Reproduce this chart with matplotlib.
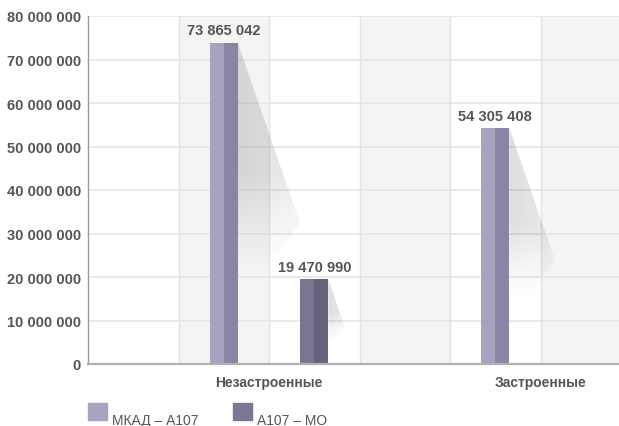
# bar chart of land area by zone, with soft drop shadows on the bars

import numpy as np
import matplotlib.pyplot as plt
from matplotlib.patches import Polygon, Rectangle
from matplotlib.ticker import FuncFormatter

plt.rcParams['font.family'] = ['Liberation Sans', 'DejaVu Sans']

# data
categories = ['Незастроенные', 'Застроенные']
series_names = ['МКАД – А107', 'А107 – МО']
mkad_a107 = [73865042, 54305408]
a107_mo = [19470990, 0]

# colors (light face, dark face) per series
face_colors = [('#a8a1bf', '#8b85a5'), ('#7c7591', '#69627f')]
legend_colors = ['#a9a3c0', '#7d7692']
txt = '#555555'

cat_pos = np.array([2.0, 5.0])
offsets = [-0.5, 0.5]
bar_w = 0.31
ymax = 80e6

fig = plt.figure(figsize=(6.19, 4.27), dpi=100)
ax = fig.add_axes([88/619, 62/427, 1 - 88/619, (365-17)/427])
ax.set_xlim(0, 531/90.5)
ax.set_ylim(0, ymax)

# alternating column bands and separators
for k in range(6):
    if k % 2 == 1:
        ax.axvspan(k, k + 1, color='#f4f4f4', zorder=0, lw=0)
    if k > 0:
        ax.axvline(k, color='#e2e2e2', lw=1, zorder=0.5)

ax.set_yticks(np.arange(0, ymax + 1, 10e6))
ax.yaxis.grid(True, color='#e6e6e6', lw=1.2, zorder=0.6)
ax.set_axisbelow(True)
ax.yaxis.set_major_formatter(FuncFormatter(lambda v, p: f'{int(v):,}'.replace(',', ' ')))
ax.tick_params(axis='y', length=0, pad=5, labelsize=10.5, labelcolor=txt)
for lab in ax.get_yticklabels():
    lab.set_fontweight('bold')
ax.set_xticks([])

for s in ['top', 'right']:
    ax.spines[s].set_visible(False)
ax.spines['left'].set_color('#9a9a9a')
ax.spines['left'].set_linewidth(1)
ax.spines['bottom'].set_color('#b0b0b0')
ax.spines['bottom'].set_linewidth(1.6)

px_y = 348 / ymax   # pixels per data unit (y)
px_x = 90.5         # pixels per data unit (x)


def shadow(xr, top):
    # diagonal fading shadow off the bar's top right corner
    drop = 0.56 * top
    dx = (drop * px_y / 2.9) / px_x
    poly = Polygon([(xr, top), (xr + dx, top - drop),
                    (xr + dx * 0.4, top - drop * 1.3), (xr, top - drop * 1.3)],
                   closed=True, transform=ax.transData, facecolor='none', edgecolor='none')
    ax.add_patch(poly)
    n = 200
    yy = np.linspace(1, 0, n)[:, None]   # 1 at the bar top, 0 at the far end
    xx = np.linspace(0, 1, n)[None, :]
    a = 0.13 * np.clip(yy / 0.45, 0, 1) ** 1.2 * (1 - 0.35 * xx)
    img = np.zeros((n, n, 4))
    img[..., 3] = np.clip(a, 0, 1)
    im = ax.imshow(img, extent=(xr, xr + dx, top - drop * 1.3, top),
                   aspect='auto', zorder=1, interpolation='bilinear')
    im.set_clip_path(poly)


for i, vals in enumerate([mkad_a107, a107_mo]):
    xs = cat_pos + offsets[i]
    for x, v in zip(xs, vals):
        if v <= 0:
            continue
        shadow(x + bar_w / 2, v)
        ax.bar(x - bar_w / 4, v, width=bar_w / 2, color=face_colors[i][0], zorder=2, lw=0)
        ax.bar(x + bar_w / 4, v, width=bar_w / 2, color=face_colors[i][1], zorder=2, lw=0)
        ax.text(x, v + 1.2e6, f'{v:,}'.replace(',', ' '), ha='center', va='bottom',
                fontsize=10.5, color=txt, fontweight='bold', zorder=3)

ax.set_ylim(0, ymax)
ax.set_xlim(0, 531/90.5)

# category labels
for c, name in zip(cat_pos, categories):
    ax.text(c, -4.2e6, name, ha='center', va='center', fontsize=10,
            fontweight='bold', color=txt, clip_on=False)

# legend
leg_x = [88, 233]
for lx, col, name in zip(leg_x, legend_colors, series_names):
    fig.patches.append(Rectangle((lx/619, 1 - 421/427), 19/619, 17/427,
                                 transform=fig.transFigure, color=col))
    fig.text((lx + 24)/619, 1 - 425/427, name, ha='left', va='baseline',
             fontsize=10, color=txt)

fig.savefig('out.png', dpi=100)
